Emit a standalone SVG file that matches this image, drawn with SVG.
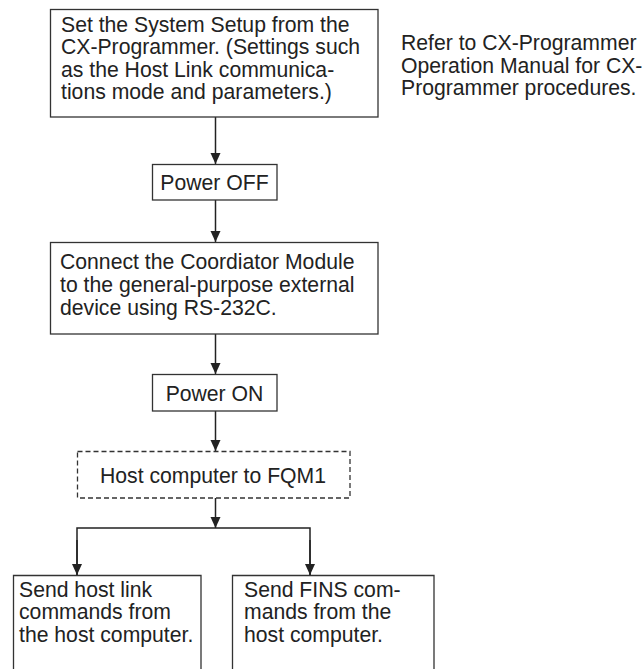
<svg xmlns="http://www.w3.org/2000/svg" width="643" height="669" viewBox="0 0 643 669">
<style>
.box{fill:#fff;stroke:#333;stroke-width:1.3}
.dash{fill:#fff;stroke:#333;stroke-width:1.3;stroke-dasharray:5 3}
.ln{fill:none;stroke:#222;stroke-width:1.5}
text{font-family:"Liberation Sans",Arial,sans-serif;font-size:21.2px;fill:#222}
.c{text-anchor:middle}
</style>
<defs>
<marker id="ad" markerWidth="12" markerHeight="12" refX="11" refY="5" orient="auto" markerUnits="userSpaceOnUse" viewBox="0 0 12 10">
<path d="M0,0 L11,5 L0,10 Z" fill="#222"/>
</marker>
</defs>
<rect width="643" height="669" fill="#fff"/>
<g id="connectors">
<line class="ln" x1="215.5" y1="117" x2="215.5" y2="164" marker-end="url(#ad)"/>
<line class="ln" x1="215.5" y1="200" x2="215.5" y2="242" marker-end="url(#ad)"/>
<line class="ln" x1="215.5" y1="334" x2="215.5" y2="374" marker-end="url(#ad)"/>
<line class="ln" x1="215.5" y1="411" x2="215.5" y2="451" marker-end="url(#ad)"/>
<line class="ln" x1="215.5" y1="498" x2="215.5" y2="528" marker-end="url(#ad)"/>
<polyline class="ln" points="77,575 77,528 310,528 310,575"/>
<line class="ln" x1="77" y1="540" x2="77" y2="575" marker-end="url(#ad)"/>
<line class="ln" x1="310" y1="540" x2="310" y2="575" marker-end="url(#ad)"/>
</g>
<g id="setup">
<rect class="box" x="50.5" y="9.5" width="327.5" height="107.5"/>
<text x="61" y="31.7">Set the System Setup from the</text>
<text x="61" y="54.2">CX-Programmer. (Settings such</text>
<text x="61" y="76.7">as the Host Link communica-</text>
<text x="61" y="99.2">tions mode and parameters.)</text>
</g>
<g id="note">
<text x="401" y="50">Refer to CX-Programmer</text>
<text x="401" y="72.5">Operation Manual for CX-</text>
<text x="401" y="95">Programmer procedures.</text>
</g>
<g id="poweroff">
<rect class="box" x="152.5" y="164.5" width="124.5" height="35.5"/>
<text class="c" x="214.5" y="189.5">Power OFF</text>
</g>
<g id="connect">
<rect class="box" x="50.5" y="242.5" width="327.5" height="91.5"/>
<text x="60" y="268.7">Connect the Coordiator Module</text>
<text x="60" y="291.7">to the general-purpose external</text>
<text x="60" y="314.7">device using RS-232C.</text>
</g>
<g id="poweron">
<rect class="box" x="152.5" y="374.5" width="124.5" height="36.5"/>
<text class="c" x="214.5" y="400.7">Power ON</text>
</g>
<g id="host">
<rect class="dash" x="77.5" y="451.5" width="272.5" height="46.5"/>
<text class="c" x="213" y="482.7">Host computer to FQM1</text>
</g>
<g id="hostlink">
<path class="box" d="M13.5,670 V575.5 H201 V670"/>
<text x="19" y="596.7">Send host link</text>
<text x="19" y="619.2">commands from</text>
<text x="19" y="641.7">the host computer.</text>
</g>
<g id="fins">
<path class="box" d="M232.5,670 V575.5 H434 V670"/>
<text x="244" y="596.7">Send FINS com-</text>
<text x="244" y="619.2">mands from the</text>
<text x="244" y="641.7">host computer.</text>
</g>
</svg>
